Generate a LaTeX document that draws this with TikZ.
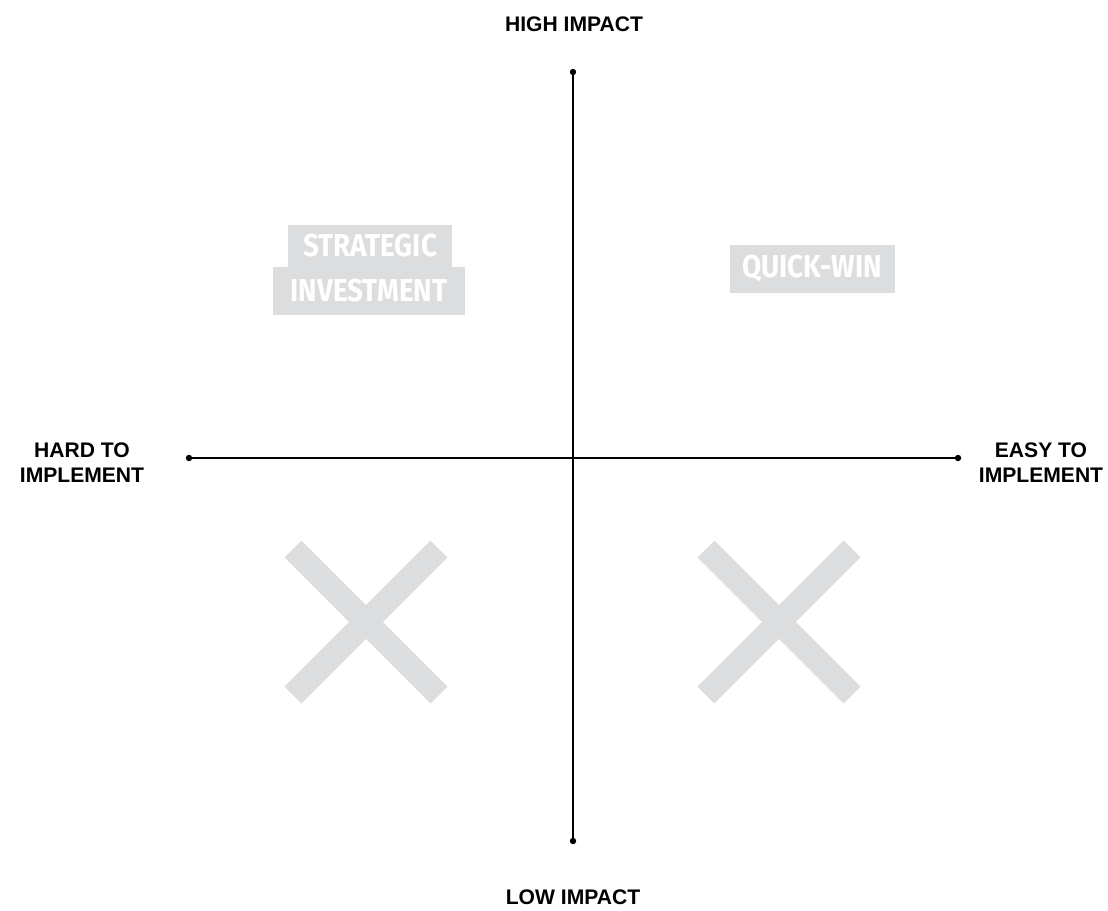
\documentclass[tikz,border=0pt]{standalone}
\usepackage{fontspec}
\setmainfont{Liberation Sans}
\newfontfamily\tagfont{Fira Sans}
\usepackage{tikz}
\definecolor{tagGray}{HTML}{DCDDDE}
\tikzset{
  axislabel/.style={font=\bfseries\fontsize{15}{17.7}\selectfont, align=center},
  tagbox/.style={fill=tagGray, text=white, inner sep=0pt, minimum height=#1,
    font=\tagfont\bfseries\fontsize{22.5}{24}\selectfont},
  cross/.style={draw=tagGray, line width=17pt},
  axis/.style={line width=1.8pt, line cap=round},
}

\begin{document}
\begin{tikzpicture}[x=0.025cm, y=-0.025cm]
			%%%%% START %%%%%
			\useasboundingbox (0, 0) rectangle (1108, 910);
			
			\coordinate (top) at (573, 72);
			\coordinate (bottom) at (573, 841);
			\coordinate (left) at (189, 458);
			\coordinate (right) at (958, 458);
			
			\draw[axis] (top) -- (bottom);
			\draw[axis] (left) -- (right);
			\foreach \p in {top, bottom, left, right}
				\fill (\p) circle (3.2);
			
			\node[axislabel] (high) at (574, 24) {HIGH IMPACT};
			\node[axislabel] (low) at (573, 897) {LOW IMPACT};
			\node[axislabel] (hard) at (82, 463) {HARD TO\\IMPLEMENT};
			\node[axislabel] (easy) at (1041, 463) {EASY TO\\IMPLEMENT};
			
			\node[tagbox=48*0.025cm, minimum width=192*0.025cm] (invest) at (369, 291)
				{\scalebox{0.88}[1]{INVESTMENT}};
			\node[tagbox=42*0.025cm, minimum width=164*0.025cm] (strategic) at (370, 246)
				{\scalebox{0.88}[1]{STRATEGIC}};
			\node[tagbox=48*0.025cm, minimum width=165*0.025cm] (quick) at (812, 269)
				{\scalebox{0.88}[1]{QUICK-WIN}};
			
			\draw[cross] (293, 549) -- (439, 695);
			\draw[cross] (293, 695) -- (439, 549);
			\draw[cross] (706, 549) -- (852, 695);
			\draw[cross] (706, 695) -- (852, 549);
			%%%%% END %%%%%
\end{tikzpicture}
\end{document}
